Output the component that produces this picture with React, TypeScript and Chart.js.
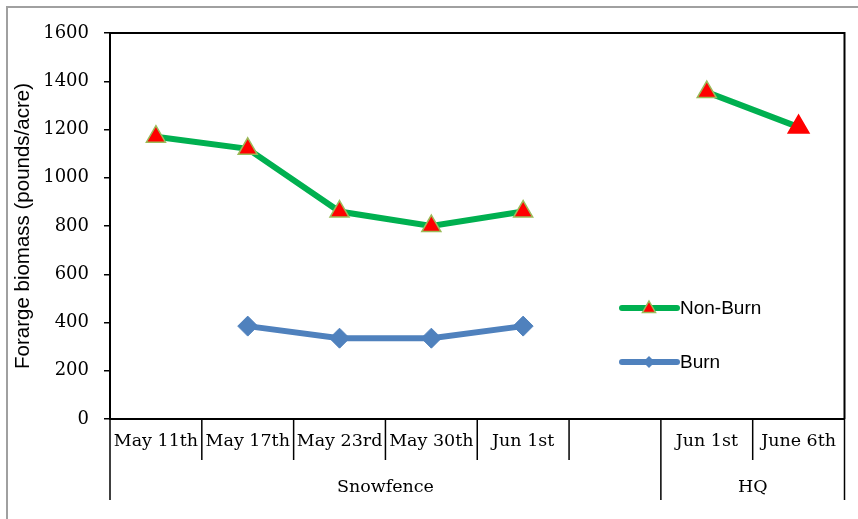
import React, { useEffect, useRef } from "react";
import { Chart, registerables } from "chart.js";

Chart.register(...registerables);

const categories = ["May 11th", "May 17th", "May 23rd", "May 30th", "Jun 1st", "", "Jun 1st", "June 6th"];
const groups = [
  { label: "Snowfence", start: 0, end: 5 },
  { label: "HQ", start: 6, end: 7 },
];
const nonBurn: (number | null)[] = [1170, 1120, 860, 800, 860, null, 1355, 1210];
const burn: (number | null)[] = [null, 385, 335, 335, 385, null, null, null];
const yTicks = [0, 200, 400, 600, 800, 1000, 1200, 1400, 1600];
const yTitle = "Forarge biomass (pounds/acre)";
const legendNames = ["Non-Burn", "Burn"];

const GREEN = "#00B050";
const RED = "#FF0000";
const TRI_BORDER = "#9BBB59";
const BLUE = "#4F81BD";
const SERIF = "'DejaVu Serif', serif";
const SANS = "'Liberation Sans', Arial, sans-serif";

const decorPlugin = {
  id: "decor",
  afterDraw(chart: any) {
    const ctx = chart.ctx as CanvasRenderingContext2D;
    const area = chart.chartArea;
    const xs = chart.scales.x;
    ctx.save();
    ctx.strokeStyle = "#a0a0a0";
    ctx.lineWidth = 2;
    ctx.beginPath();
    ctx.moveTo(7, 519);
    ctx.lineTo(7, 7);
    ctx.lineTo(858, 7);
    ctx.stroke();

    ctx.strokeStyle = "#000";
    ctx.lineWidth = 2;
    ctx.beginPath();
    ctx.moveTo(area.left, area.top);
    ctx.lineTo(area.right, area.top);
    ctx.lineTo(area.right, area.bottom);
    ctx.stroke();

    const n = categories.length;
    const half = (xs.getPixelForValue(1) - xs.getPixelForValue(0)) / 2;
    const groupBounds = new Set<number>();
    groups.forEach((g) => {
      groupBounds.add(g.start);
      groupBounds.add(g.end + 1);
    });
    ctx.lineWidth = 1.5;
    for (let i = 0; i <= n; i++) {
      const x = i < n ? xs.getPixelForValue(i) - half : xs.getPixelForValue(n - 1) + half;
      const long = groupBounds.has(i);
      ctx.beginPath();
      ctx.moveTo(x, area.bottom);
      ctx.lineTo(x, area.bottom + (long ? 81 : 41));
      ctx.stroke();
    }

    ctx.fillStyle = "#000";
    ctx.font = `17.5px ${SERIF}`;
    ctx.textAlign = "center";
    ctx.textBaseline = "middle";
    groups.forEach((g) => {
      const x0 = xs.getPixelForValue(g.start) - half;
      const x1 = xs.getPixelForValue(g.end) + half;
      ctx.fillText(g.label, (x0 + x1) / 2, area.bottom + 68);
    });

    ctx.save();
    ctx.translate(23, (area.top + area.bottom) / 2);
    ctx.rotate(-Math.PI / 2);
    ctx.font = `20.5px ${SANS}`;
    ctx.fillText(yTitle, 0, 0);
    ctx.restore();

    const lx0 = 622, lx1 = 677, mx = 649;
    const rows = [308, 362];
    ctx.lineCap = "round";
    ctx.lineWidth = 6;
    ctx.strokeStyle = GREEN;
    ctx.beginPath();
    ctx.moveTo(lx0, rows[0]);
    ctx.lineTo(lx1, rows[0]);
    ctx.stroke();
    ctx.beginPath();
    ctx.moveTo(mx, rows[0] - 7);
    ctx.lineTo(mx + 6.5, rows[0] + 4.5);
    ctx.lineTo(mx - 6.5, rows[0] + 4.5);
    ctx.closePath();
    ctx.fillStyle = RED;
    ctx.fill();
    ctx.lineWidth = 1.5;
    ctx.strokeStyle = TRI_BORDER;
    ctx.stroke();
    ctx.lineWidth = 6;
    ctx.strokeStyle = BLUE;
    ctx.beginPath();
    ctx.moveTo(lx0, rows[1]);
    ctx.lineTo(lx1, rows[1]);
    ctx.stroke();
    ctx.beginPath();
    ctx.moveTo(mx, rows[1] - 6);
    ctx.lineTo(mx + 6, rows[1]);
    ctx.lineTo(mx, rows[1] + 6);
    ctx.lineTo(mx - 6, rows[1]);
    ctx.closePath();
    ctx.fillStyle = BLUE;
    ctx.fill();

    ctx.fillStyle = "#000";
    ctx.font = `19px ${SANS}`;
    ctx.textAlign = "left";
    ctx.fillText(legendNames[0], 680, rows[0] + 1);
    ctx.fillText(legendNames[1], 680, rows[1] + 1);
    ctx.restore();
  },
};

export default function App() {
  const ref = useRef<HTMLCanvasElement>(null);
  useEffect(() => {
    if (!ref.current) return;
    const chart = new Chart(ref.current, {
      type: "line",
      data: {
        labels: categories,
        datasets: [
          {
            label: legendNames[0],
            data: nonBurn,
            borderColor: GREEN,
            borderWidth: 6,
            pointStyle: "triangle",
            pointRadius: nonBurn.map((_, i) => (i === 7 ? 12 : 11)),
            pointBackgroundColor: RED,
            pointBorderColor: nonBurn.map((_, i) => (i === 7 ? RED : TRI_BORDER)),
            pointBorderWidth: 1.5,
            tension: 0,
            spanGaps: false,
          },
          {
            label: legendNames[1],
            data: burn,
            borderColor: BLUE,
            borderWidth: 6,
            pointStyle: "rectRot",
            pointRadius: 10,
            pointBackgroundColor: BLUE,
            pointBorderColor: BLUE,
            pointBorderWidth: 1,
            tension: 0,
            spanGaps: false,
          },
        ],
      },
      options: {
        responsive: false,
        animation: false,
        layout: { padding: { left: 0, top: 33, right: 10, bottom: 0 } },
        plugins: { legend: { display: false }, tooltip: { enabled: false } },
        scales: {
          x: {
            type: "category",
            offset: true,
            grid: { display: false, drawTicks: false },
            border: { display: true, color: "#000", width: 2 },
            ticks: {
              color: "#000",
              font: { family: SERIF, size: 17.5 },
              padding: 12,
              maxRotation: 0,
              autoSkip: false,
            },
            afterFit: (s: any) => {
              s.height = 100;
            },
          },
          y: {
            min: yTicks[0],
            max: yTicks[yTicks.length - 1],
            afterBuildTicks: (s: any) => {
              s.ticks = yTicks.map((v) => ({ value: v }));
            },
            grid: {
              drawOnChartArea: false,
              drawTicks: true,
              tickLength: 6,
              color: "#000",
              lineWidth: 1.5,
            },
            border: { display: true, color: "#000", width: 2 },
            ticks: {
              color: "#000",
              font: { family: SERIF, size: 18 },
              padding: 15,
              callback: (v: any) => String(v),
            },
            afterFit: (s: any) => {
              s.width = 110;
            },
          },
        },
      },
      plugins: [decorPlugin],
    });
    return () => chart.destroy();
  }, []);
  return (
    <div style={{ position: "absolute", left: 0, top: 0, width: 858, height: 519, background: "#fff" }}>
      <canvas ref={ref} width={858} height={519} />
    </div>
  );
}
